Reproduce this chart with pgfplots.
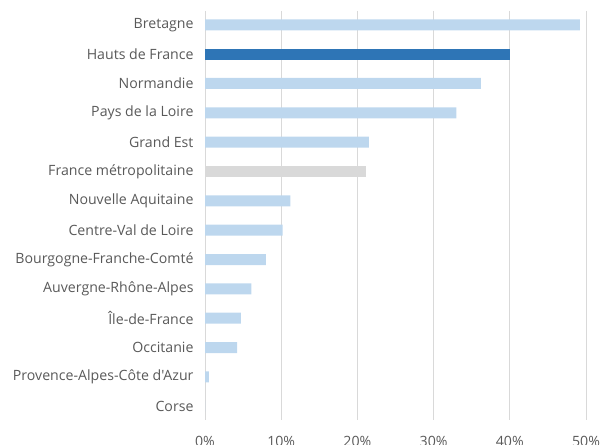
\documentclass[border=0pt]{standalone}
\usepackage{pgfplots}
\pgfplotsset{compat=1.18}
\usepackage{fontspec}
\setmainfont{Open Sans}[Ligatures=TeXOff]
\definecolor{lightbar}{HTML}{BDD7EE}
\definecolor{darkbar}{HTML}{2E75B6}
\definecolor{greybar}{HTML}{D9D9D9}
\definecolor{gridc}{HTML}{D9D9D9}
\definecolor{labc}{HTML}{595959}

\begin{document}
\begin{tikzpicture}
  \path (0,0) rectangle (600bp,445bp);
  \begin{axis}[
      at={(205bp,25bp)}, anchor=south west,
      scale only axis,
      width=381bp, height=409bp,
      xbar, bar width=11bp,
      xmin=0, xmax=50,
      ymin=-0.47, ymax=13.47,
      y dir=reverse,
      axis line style={draw=none},
      xtick={0,10,...,50},
      xticklabel={\pgfmathprintnumber{\tick}\%},
      /pgf/number format/assume math mode=true,
      ytick={0,...,13},
      yticklabels={Bretagne,Hauts de France,Normandie,Pays de la Loire,Grand Est,France métropolitaine,Nouvelle Aquitaine,Centre-Val de Loire,Bourgogne-Franche-Comté,Auvergne-Rhône-Alpes,Île-de-France,Occitanie,Provence-Alpes-Côte d'Azur,Corse},
      major tick length=0pt,
      xmajorgrids,
      grid style={gridc, line width=0.9bp},
      tick label style={font=\fontsize{14.2}{16}\selectfont, text=labc},
      yticklabel style={xshift=-8bp},
      xticklabel style={yshift=-13bp},
    ]
    \addplot[fill=lightbar, draw=none, bar shift=0pt] coordinates {
      (49.2,0) (36.2,2) (33.0,3) (21.5,4) (11.2,6) (10.2,7)
      (8.0,8) (6.1,9) (4.7,10) (4.2,11) (0.5,12) (0,13)
    };
    \addplot[fill=darkbar, draw=none, bar shift=0pt] coordinates {(40.0,1)};
    \addplot[fill=greybar, draw=none, bar shift=0pt] coordinates {(21.1,5)};
  \end{axis}
  \pgfresetboundingbox
  \path (0,0) rectangle (600bp,445bp);
\end{tikzpicture}
\end{document}
